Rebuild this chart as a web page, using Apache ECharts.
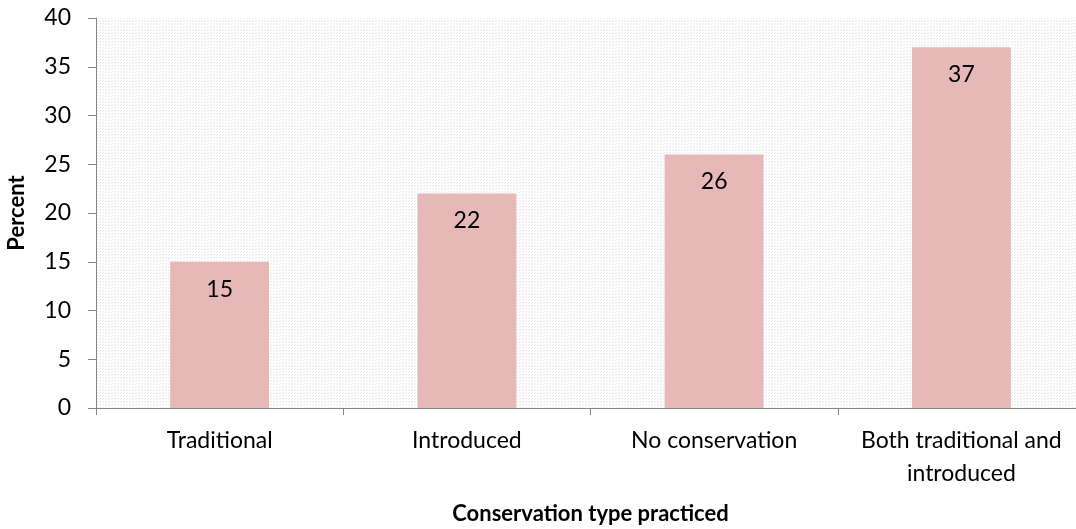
<!DOCTYPE html>
<html>
<head>
<meta charset="utf-8">
<script src="https://cdn.jsdelivr.net/npm/echarts@6/dist/echarts.min.js"></script>
<style>
  html, body { margin: 0; padding: 0; background: #ffffff; }
  #chart { width: 1076px; height: 529px; }
</style>
</head>
<body>
<div id="chart"></div>
<script>
// Share of respondents by conservation type practiced
const categories = ['Traditional', 'Introduced', 'No conservation', 'Both traditional and\nintroduced'];
const percentValues = [15, 22, 26, 37];
const yTicks = { min: 0, max: 40, interval: 5 };

// Faint dotted fill for the plot area
function dotPattern() {
  const c = document.createElement('canvas');
  c.width = 3; c.height = 3;
  const ctx = c.getContext('2d');
  ctx.fillStyle = '#ffffff';
  ctx.fillRect(0, 0, 3, 3);
  ctx.fillStyle = '#e6e6e6';
  ctx.fillRect(0, 0, 1, 1);
  ctx.fillRect(1, 2, 1, 1);
  return c;
}

const font = 'Lato, "Open Sans", sans-serif';
const axisGray = '#868686';
const chart = echarts.init(document.getElementById('chart'), null, { renderer: 'canvas' });

chart.setOption({
  backgroundColor: '#ffffff',
  animation: false,
  textStyle: { fontFamily: font },
  grid: {
    left: 96, top: 18, width: 989, height: 390,
    containLabel: false,
    outerBoundsMode: 'none',
    show: true, borderWidth: 0,
    backgroundColor: { image: dotPattern(), repeat: 'repeat' }
  },
  xAxis: {
    type: 'category',
    data: categories,
    name: 'Conservation type practiced',
    nameLocation: 'middle',
    nameGap: 95,
    nameTextStyle: { color: '#000000', fontSize: 22, fontWeight: 'bold', fontFamily: font },
    axisLine: { lineStyle: { color: axisGray, width: 1 } },
    axisTick: { show: true, alignWithLabel: false, length: 7, lineStyle: { color: axisGray } },
    axisLabel: { color: '#000000', fontSize: 23, fontFamily: font, margin: 16, lineHeight: 33, interval: 0 },
    splitLine: { show: false }
  },
  yAxis: {
    type: 'value',
    min: yTicks.min, max: yTicks.max, interval: yTicks.interval,
    name: 'Percent',
    nameLocation: 'middle',
    nameGap: 68,
    nameRotate: 90,
    nameTextStyle: { color: '#000000', fontSize: 22, fontWeight: 'bold', fontFamily: font },
    axisLine: { show: true, lineStyle: { color: axisGray, width: 1 } },
    axisTick: { show: true, length: 8, lineStyle: { color: axisGray } },
    axisLabel: { color: '#000000', fontSize: 23, fontFamily: font, margin: 25 },
    splitLine: { show: false }
  },
  series: [{
    type: 'bar',
    data: percentValues,
    barWidth: '40%',
    itemStyle: { color: '#e6b8b7' },
    label: {
      show: true,
      position: 'insideTop',
      distance: 16,
      color: '#000000',
      fontSize: 23,
      fontFamily: font
    }
  }]
});
</script>
</body>
</html>
